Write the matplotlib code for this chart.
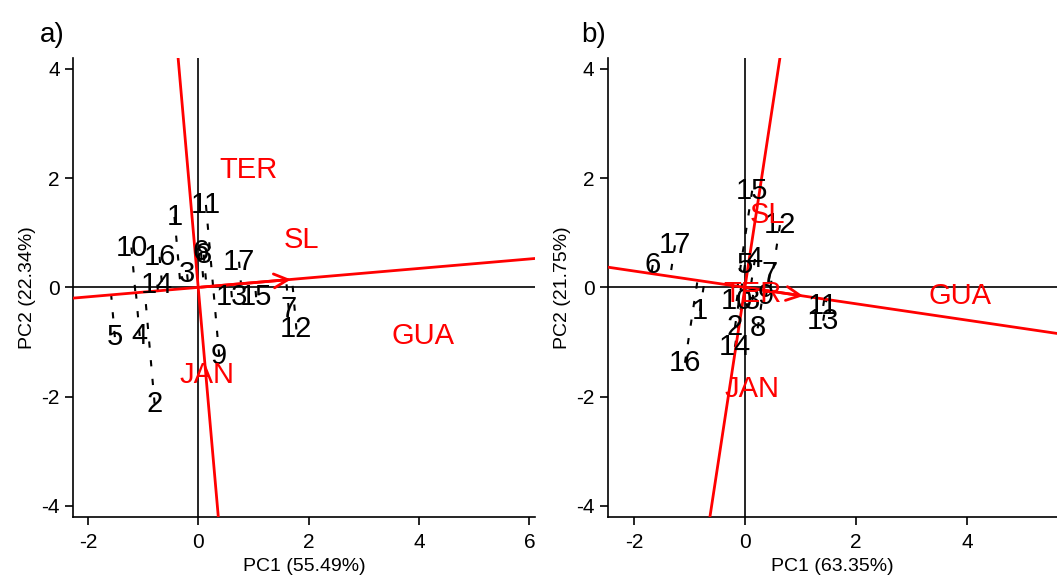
import numpy as np
import matplotlib
matplotlib.use("Agg")
import matplotlib.pyplot as plt

plt.rcParams['font.family'] = ['Liberation Sans', 'DejaVu Sans']
plt.rcParams['axes.unicode_minus'] = False

# panel a data
gen_a = ["1", "2", "3", "4", "5", "6", "7", "8", "9", "10", "11", "12", "13", "14", "15", "16", "17"]
xa = [-0.43, -0.79, -0.20, -1.06, -1.51, 0.05, 1.64, 0.10, 0.38, -1.21, 0.14, 1.78, 0.61, -0.74, 1.05, -0.70, 0.74]
ya = [1.29, -2.13, 0.24, -0.89, -0.91, 0.64, -0.40, 0.60, -1.25, 0.73, 1.51, -0.77, -0.18, 0.05, -0.18, 0.56, 0.47]
env_a = ["TER", "SL", "GUA", "JAN"]
env_xa = [0.92, 1.87, 4.07, 0.16]
env_ya = [2.15, 0.87, -0.89, -1.60]
mean_a = (1.73, 0.15)
ticks_a = [-2, 0, 2, 4, 6]

# panel b data
gen_b = ["1", "2", "3", "4", "5", "6", "7", "8", "9", "10", "11", "12", "13", "14", "15", "16", "17"]
xb = [-0.81, -0.18, 0.13, 0.18, 0.00, -1.66, 0.45, 0.23, 0.38, -0.15, 1.41, 0.63, 1.41, -0.18, 0.13, -1.08, -1.26]
yb = [-0.43, -0.73, -0.25, 0.52, 0.41, 0.41, 0.25, -0.75, -0.16, -0.25, -0.34, 1.14, -0.61, -1.09, 1.77, -1.38, 0.77]
env_b = ["SL", "TER", "GUA", "JAN"]
env_xb = [0.41, 0.13, 3.87, 0.13]
env_yb = [1.32, -0.13, -0.16, -1.86]
mean_b = (1.10, -0.165)
ticks_b = [-2, 0, 2, 4]


def biplot(ax, gen, x, y, env, ex, ey, mean, xticks, xlim, xlabel, ylabel):
    ax.axhline(0, color="black", lw=1.2, zorder=1)
    ax.axvline(0, color="black", lw=1.2, zorder=1)
    u = np.array(mean) / np.hypot(*mean)
    # average environment axis and its perpendicular
    ax.axline((0, 0), (u[0], u[1]), color="red", lw=2, zorder=3)
    ax.axline((0, 0), (-u[1], u[0]), color="red", lw=2, zorder=3)
    ax.annotate("", xy=mean, xytext=(0, 0),
                arrowprops=dict(arrowstyle="->", color="red", lw=2, mutation_scale=25),
                zorder=4)
    for g, px, py in zip(gen, x, y):
        p = np.array([px, py])
        q = np.dot(p, u) * u
        ax.plot([px, q[0]], [py, q[1]], color="black", lw=1.5, ls=(0, (3, 6)), zorder=2)
        ax.text(px, py, g, fontsize=21, ha="center", va="center", color="black", zorder=5)
    for e, px, py in zip(env, ex, ey):
        ax.text(px, py, e, fontsize=21, ha="center", va="center", color="red", zorder=6)
    ax.set_xticks(xticks)
    ax.set_yticks([-4, -2, 0, 2, 4])
    ax.set_xlim(*xlim)
    ax.set_ylim(-4.2, 4.2)
    ax.spines["top"].set_visible(False)
    ax.spines["right"].set_visible(False)
    ax.spines["left"].set_linewidth(1.2)
    ax.spines["bottom"].set_linewidth(1.2)
    ax.tick_params(labelsize=15, length=6, width=1.2)
    ax.tick_params(axis="x", pad=6)
    ax.set_xlabel(xlabel, fontsize=14, labelpad=4)
    ax.set_ylabel(ylabel, fontsize=14, labelpad=4)


fig = plt.figure(figsize=(10.57, 5.80), dpi=100)
ax1 = fig.add_axes([0.069, 0.109, 0.437, 0.791])
ax2 = fig.add_axes([0.575, 0.109, 0.425, 0.791])

biplot(ax1, gen_a, xa, ya, env_a, env_xa, env_ya, mean_a, ticks_a, (-2.27, 6.1),
       "PC1 (55.49%)", "PC2 (22.34%)")
biplot(ax2, gen_b, xb, yb, env_b, env_xb, env_yb, mean_b, ticks_b, (-2.47, 5.62),
       "PC1 (63.35%)", "PC2 (21.75%)")

fig.text(0.038, 0.94, "a)", fontsize=20, ha="left", va="center")
fig.text(0.550, 0.94, "b)", fontsize=20, ha="left", va="center")

fig.savefig("out.png", dpi=100)
